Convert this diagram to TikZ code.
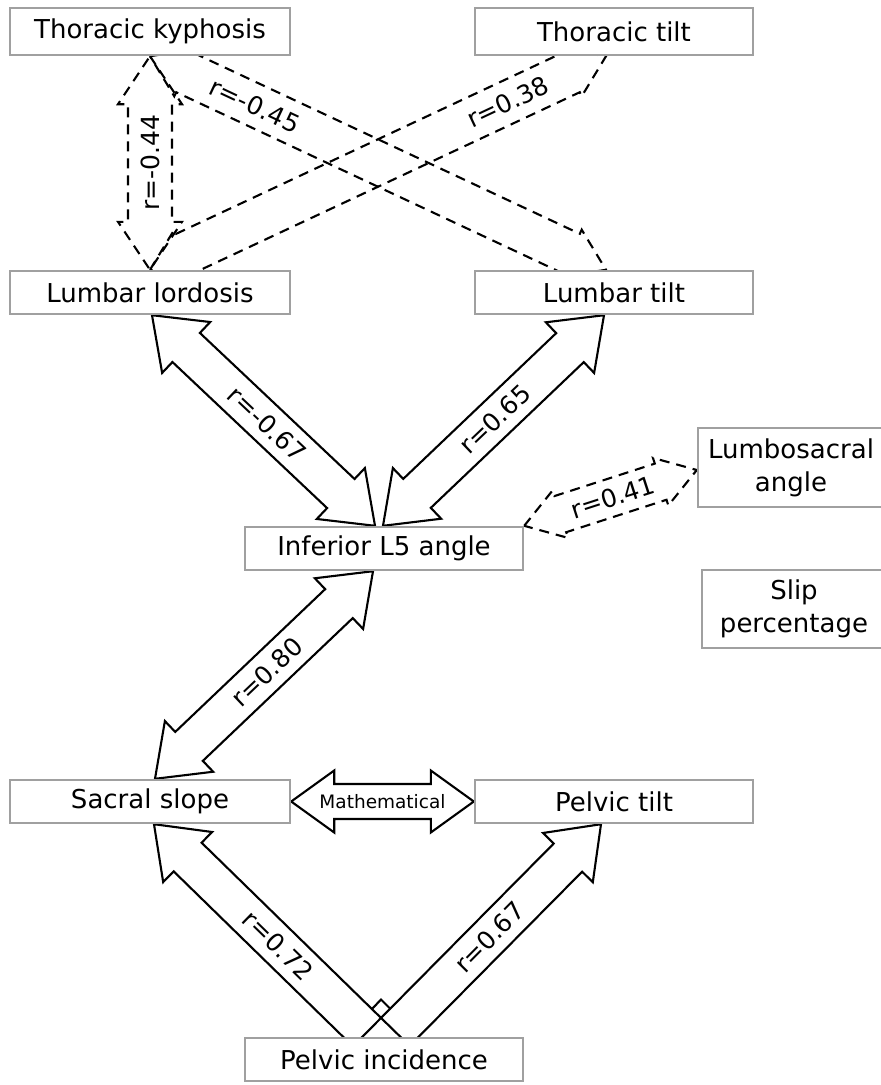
\documentclass[tikz,border=0pt]{standalone}
\usepackage{fontspec}
\setmainfont{DejaVu Sans}
\usetikzlibrary{calc,backgrounds}
% double-headed block arrow: #1 style, #2 from, #3 to, #4 half shaft, #5 half head, #6 head length
\newcommand\dblarr[6]{%
  \draw[#1] (#2)
   -- ($(#2)!#6!(#3)!#5!90:(#3)$)
   -- ($(#2)!#6!(#3)!#4!90:(#3)$)
   -- ($(#3)!#6!(#2)!#4!-90:(#2)$)
   -- ($(#3)!#6!(#2)!#5!-90:(#2)$)
   -- (#3)
   -- ($(#3)!#6!(#2)!#5!90:(#2)$)
   -- ($(#3)!#6!(#2)!#4!90:(#2)$)
   -- ($(#2)!#6!(#3)!#4!-90:(#3)$)
   -- ($(#2)!#6!(#3)!#5!-90:(#3)$)
   -- cycle;}
% single-headed block arrow (head at #3)
\newcommand\sglarr[6]{%
  \draw[#1] ($(#2)!#4!90:(#3)$)
   -- ($(#3)!#6!(#2)!#4!-90:(#2)$)
   -- ($(#3)!#6!(#2)!#5!-90:(#2)$)
   -- (#3)
   -- ($(#3)!#6!(#2)!#5!90:(#2)$)
   -- ($(#3)!#6!(#2)!#4!90:(#2)$)
   -- ($(#2)!#4!-90:(#3)$)
   -- cycle;}
\begin{document}
\begin{tikzpicture}[x=1pt,y=-1pt,
  box/.style={draw={rgb,255:red,160;green,160;blue,160}, line width=2.4pt, fill=white,
    inner sep=0pt, font=\fontsize{26}{33}\selectfont, align=center},
  solidarr/.style={draw=black, line width=2.1pt, line join=miter},
  dasharr/.style={draw=black, line width=2.1pt, dash pattern=on 10pt off 7pt},
  lbl/.style={font=\fontsize{25}{28}\selectfont, inner sep=0pt, sloped},
  mathlbl/.style={font=\fontsize{18.5}{22}\selectfont, inner sep=0pt}
]
\useasboundingbox (0,0) rectangle (881,1085);
\clip (0,0) rectangle (881,1085);

% boxes
\node[box, minimum width=280pt, minimum height=47pt] (tk)  at (150,31.5)   {Thoracic kyphosis};
\node[box, minimum width=278pt, minimum height=47pt] (tt)  at (614,31.5)   {Thoracic tilt};
\node[box, minimum width=280pt, minimum height=43pt] (ll)  at (150,292.5)  {Lumbar lordosis};
\node[box, minimum width=278pt, minimum height=43pt] (lt)  at (614,292.5)  {Lumbar tilt};
\node[box, minimum width=278pt, minimum height=43pt] (il5) at (384,548.5)  {Inferior L5 angle};
\node[box, minimum width=186pt, minimum height=79pt] (la)  at (791,467.5)  {Lumbosacral\\angle};
\node[box, minimum width=184pt, minimum height=78pt] (sp)  at (794,609)    {Slip\\percentage};
\node[box, minimum width=280pt, minimum height=43pt] (ss)  at (150,801.5)  {Sacral slope};
\node[box, minimum width=278pt, minimum height=43pt] (pt)  at (614,801.5)  {Pelvic tilt};
\node[box, minimum width=278pt, minimum height=43pt] (pi)  at (384,1059.5) {Pelvic incidence};

% connector end points
\coordinate (a8e)  at ($(lt.north)+(-8,0)$);
\coordinate (a9e)  at ($(tt.south)+(-8,0)$);
\coordinate (a1s)  at ($(ll.south)+(2,0)$);
\coordinate (a1e)  at ($(il5.north)+(-9,0)$);
\coordinate (a2s)  at ($(lt.south)+(-10,0)$);
\coordinate (a2e)  at ($(il5.north)+(-1,0)$);
\coordinate (a3s)  at ($(il5.south)+(-11,0)$);
\coordinate (a3e)  at ($(ss.north)+(5,0)$);
\coordinate (a5s)  at ($(pi.center)+(11,0)$);
\coordinate (a5e)  at ($(ss.south)+(4,0)$);
\coordinate (a6s)  at ($(pi.center)+(-16,0)$);
\coordinate (a6e)  at ($(pt.south)+(-13,0)$);
\coordinate (a10e) at ($(la.west)+(0,2.5)$);
\coordinate (dl) at (372,1009);
\coordinate (dt) at (381,999.5);
\coordinate (dr) at (390,1008.5);

\begin{pgfonlayer}{background}
  % dashed correlations
  \dblarr{dasharr}{tk.south}{ll.north}{22pt}{32pt}{48pt}
  \dblarr{dasharr}{tk.south}{a8e}{21.5pt}{26pt}{39pt}
  \dblarr{dasharr}{ll.north}{a9e}{21.5pt}{26pt}{39pt}
  \dblarr{dasharr}{il5.north east}{a10e}{19pt}{25pt}{38pt}
  % solid correlations
  \dblarr{solidarr}{a1s}{a1e}{20pt}{35pt}{47pt}
  \dblarr{solidarr}{a2s}{a2e}{20pt}{35pt}{47pt}
  \dblarr{solidarr}{a3s}{a3e}{20pt}{35pt}{47pt}
  \dblarr{solidarr}{ss.east}{pt.west}{17.5pt}{31pt}{43pt}
  \sglarr{solidarr}{a5s}{a5e}{20pt}{35pt}{47pt}
  \sglarr{solidarr}{a6s}{a6e}{20pt}{35pt}{47pt}
  \draw[solidarr] (dl) -- (dt) -- (dr);
\end{pgfonlayer}

% labels
\path (ll.north) -- (tk.south) node[lbl, pos=0.5] {r=-0.44};
\path (tk.south) -- (a8e) node[lbl, pos=0.23] {r=-0.45};
\path (ll.north) -- (a9e) node[lbl, pos=0.785] {r=0.38};
\path (a1s) -- (a1e) node[lbl, pos=0.516] {r=-0.67};
\path (a2e) -- (a2s) node[lbl, pos=0.507] {r=0.65};
\path (a3e) -- (a3s) node[lbl, pos=0.514] {r=0.80};
\path (a5e) -- (a5s) node[lbl, pos=0.515] {r=0.72};
\path (a6s) -- (a6e) node[lbl, pos=0.52] {r=0.67};
\path (il5.north east) -- (a10e) node[lbl, pos=0.514] {r=0.41};
\node[mathlbl] (mt) at ($(ss.east)!0.5!(pt.west)$) {Mathematical};
\end{tikzpicture}
\end{document}
